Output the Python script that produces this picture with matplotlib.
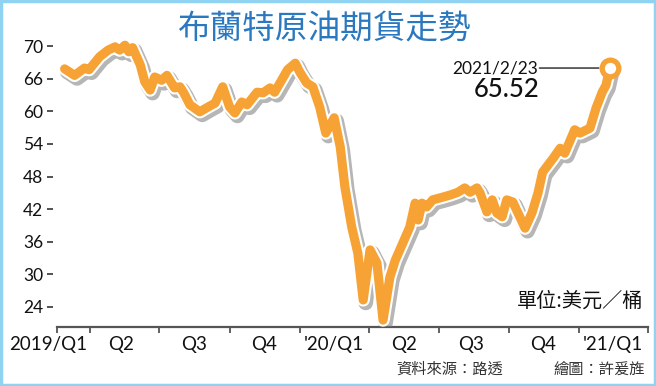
import numpy as np
import pandas as pd
import matplotlib
matplotlib.use("Agg")
import matplotlib.pyplot as plt
import matplotlib.patheffects as pe
from matplotlib.patches import Rectangle

plt.rcParams['font.family'] = ['Noto Sans CJK TC', 'DejaVu Sans']

# brent weekly prices
dates = [
    '2019-02-27', '2019-03-12', '2019-03-25', '2019-03-31', '2019-04-14',
    '2019-04-25', '2019-05-04', '2019-05-10', '2019-05-17', '2019-05-22',
    '2019-05-27', '2019-06-06', '2019-06-12', '2019-06-19', '2019-06-25',
    '2019-07-04', '2019-07-11', '2019-07-21', '2019-07-28', '2019-08-02',
    '2019-08-10', '2019-08-23', '2019-09-03', '2019-09-12', '2019-09-22',
    '2019-10-01', '2019-10-08', '2019-10-17', '2019-10-24', '2019-11-06',
    '2019-11-14', '2019-11-23', '2019-11-29', '2019-12-06', '2019-12-16',
    '2019-12-26', '2020-01-01', '2020-01-10', '2020-01-18', '2020-01-27',
    '2020-02-04', '2020-02-15', '2020-02-23', '2020-02-29', '2020-03-09',
    '2020-03-17', '2020-03-24', '2020-04-02', '2020-04-11', '2020-04-19',
    '2020-04-28', '2020-05-05', '2020-05-15', '2020-05-24', '2020-05-31',
    '2020-06-04', '2020-06-09', '2020-06-15', '2020-06-23', '2020-07-06',
    '2020-07-16', '2020-07-26', '2020-08-04', '2020-08-11', '2020-08-20',
    '2020-08-24', '2020-09-02', '2020-09-09', '2020-09-15', '2020-09-22',
    '2020-09-28', '2020-10-06', '2020-10-15', '2020-10-22', '2020-10-31',
    '2020-11-08', '2020-11-14', '2020-11-28', '2020-12-07', '2020-12-13',
    '2020-12-26', '2021-01-02', '2021-01-15', '2021-01-23', '2021-01-31',
    '2021-02-05', '2021-02-10',
]
prices = [
    67.2, 66.4, 67.3, 67.1, 68.7,
    69.5, 69.9, 69.5, 70.1, 69.3,
    69.8, 67.7, 65.4, 63.9, 66.2,
    65.7, 66.4, 64.3, 64.5, 63.4,
    61.2, 59.9, 60.8, 61.5, 64.5,
    60.8, 59.7, 61.7, 61.2, 63.5,
    63.4, 64.3, 63.5, 65.2, 67.1,
    67.9, 66.8, 65.2, 64.5, 60.8,
    56.0, 58.8, 53.4, 46.1, 38.7,
    33.9, 25.3, 34.5, 32.1, 21.6,
    29.5, 32.6, 35.8, 38.7, 43.1,
    40.0, 43.1, 42.4, 43.7, 44.2,
    44.6, 45.1, 45.9, 45.1, 45.9,
    45.0, 41.5, 43.7, 41.3, 40.6,
    43.7, 43.3, 40.6, 38.5, 41.3,
    45.0, 48.8, 51.4, 53.2, 52.3,
    56.6, 56.0, 56.9, 60.6, 63.5,
    64.8, 67.3,
]
dates = pd.to_datetime(dates)

y_ticks = [24, 30, 36, 42, 48, 54, 60, 66, 70]
quarter_edges = pd.to_datetime(['2019-02-17', '2019-04-01', '2019-07-01', '2019-10-01',
                                '2020-01-01', '2020-04-01', '2020-07-01', '2020-10-01',
                                '2021-01-01', '2021-04-01'])
quarter_labels = ['2019/Q1', 'Q2', 'Q3', 'Q4', "'20/Q1", 'Q2', 'Q3', 'Q4', "'21/Q1"]
quarter_mids = pd.to_datetime(['2019-02-06', '2019-05-12', '2019-08-15', '2019-11-15',
                               '2020-02-14', '2020-05-16', '2020-08-12', '2020-11-15',
                               '2021-02-14'])
last_label = '2021/2/23'
last_value = '65.52'

orange = '#F7A234'


# the graphic spaces its ticks evenly although the steps are 6 and 4
def fwd(v):
    v = np.asarray(v, dtype=float)
    return np.where(v <= 66, (v - 24) / 6.0, 7 + (v - 66) / 4.0)


def inv(p):
    p = np.asarray(p, dtype=float)
    return np.where(p <= 7, 24 + 6.0 * p, 66 + 4.0 * (p - 7))


fig = plt.figure(figsize=(6.56, 3.86), dpi=100)
ax = fig.add_axes([57 / 656, 59 / 386, 591 / 656, 287 / 386])
ax.set_yscale('function', functions=(fwd, inv))
ax.set_ylim(20.32, 70.74)
ax.set_xlim(quarter_edges[0], quarter_edges[-1])

ax.plot(dates, prices, color=orange, lw=6.6, solid_joinstyle='round',
        solid_capstyle='round', zorder=3,
        path_effects=[pe.SimpleLineShadow(offset=(1.8, -2.2), shadow_color='#7a7a7a',
                                          alpha=0.55, linewidth=10.5),
                      pe.Stroke(linewidth=9.6, foreground='white'),
                      pe.Normal()])

# end point marker + callout
ax.plot(dates[-1:], prices[-1:], 'o', ms=12, mfc='white', mec=orange, mew=3.8, zorder=5)
ax.annotate('', xy=(dates[-1], prices[-1]), xytext=(pd.Timestamp('2020-11-10'), prices[-1]),
            arrowprops=dict(arrowstyle='-', color='#555555', lw=1.3,
                            shrinkA=0, shrinkB=8), zorder=4)
ax.text(pd.Timestamp('2020-11-08'), prices[-1], last_label, ha='right', va='center',
        fontsize=12.5, family=['Lato', 'DejaVu Sans'], color='#111111')
ax.text(pd.Timestamp('2020-11-10'), 64.0, last_value, ha='right', va='center',
        fontsize=18.5, family=['Lato', 'DejaVu Sans'], color='#111111', fontweight='medium')

for s in ['top', 'right', 'left']:
    ax.spines[s].set_visible(False)
ax.spines['left'].set_position(('outward', 3))
ax.spines['bottom'].set_color('#555555')
ax.spines['bottom'].set_linewidth(1.6)

ax.set_yticks(y_ticks)
ax.set_yticklabels([str(t) for t in y_ticks], family=['Lato', 'DejaVu Sans'], fontsize=12.5)
ax.yaxis.set_minor_locator(matplotlib.ticker.NullLocator())
ax.tick_params(axis='y', length=4, width=1.3, color='#444444', pad=3, labelcolor='#111111')

ax.set_xticks(quarter_edges)
ax.set_xticklabels([])
ax.tick_params(axis='x', length=4, width=1.3, color='#555555', direction='out')
for d, lab in zip(quarter_mids, quarter_labels):
    ax.text(d, -0.06, lab, transform=ax.get_xaxis_transform(), ha='center', va='center',
            fontsize=13.5, family=['Lato', 'DejaVu Sans'], color='#111111', clip_on=False)

fig.text(325 / 656, 1 - 30 / 386, '布蘭特原油期貨走勢', ha='center', va='center',
         fontsize=23.5, color='#2a78bf', fontweight='medium')
fig.text(643 / 656, 1 - 301 / 386, '單位:美元／桶', ha='right', va='center',
         fontsize=14.5, color='#111111', fontweight='medium')
fig.text(503 / 656, 1 - 369 / 386, '資料來源：路透', ha='right', va='center',
         fontsize=11, color='#333333')
fig.text(645 / 656, 1 - 369 / 386, '繪圖：許爰旌', ha='right', va='center',
         fontsize=11, color='#333333')

fig.patches.append(Rectangle((0.002, 0.003), 0.996, 0.994, transform=fig.transFigure,
                             fill=False, ec='#8fd2f2', lw=2.5))

fig.savefig('out.png', dpi=100)
